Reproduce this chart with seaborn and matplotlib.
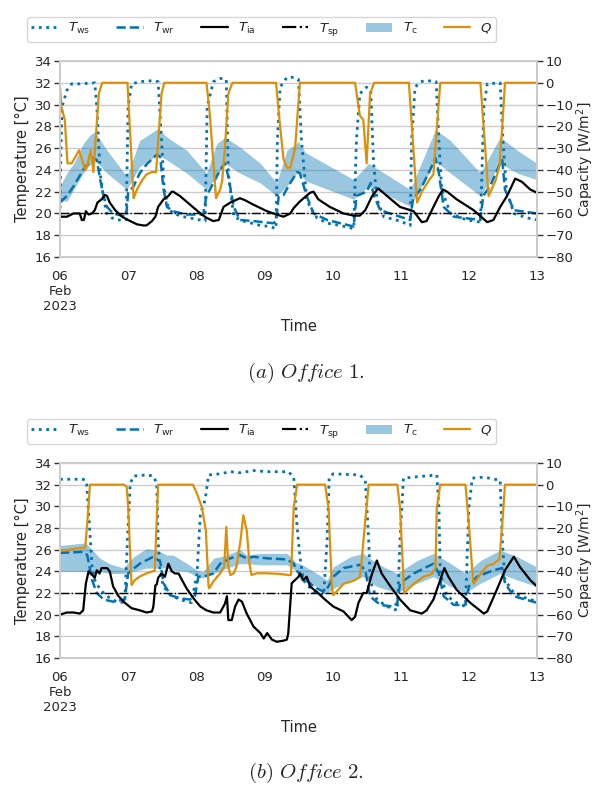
import numpy as np
import pandas as pd
import matplotlib
matplotlib.use('Agg')
import matplotlib.pyplot as plt
import seaborn as sns
from matplotlib.lines import Line2D
from matplotlib.patches import Patch

# ---- data (time in days after 2023-02-06 00:00) ----
start = pd.Timestamp('2023-02-06')
day_labels = ['06\nFeb\n2023', '07', '08', '09', '10', '11', '12', '13']

# ---------------- Office 1 ----------------
o1_ws_t = [0, 0.01, 0.03, 0.10, 0.17, 0.29, 0.51, 0.54, 0.59, 0.64, 0.69, 0.76, 0.83, 0.97, 1.00, 1.05, 1.17, 1.37,
           1.44, 1.49, 1.53, 1.59, 1.66, 1.81, 2.06, 2.13, 2.16, 2.25, 2.35, 2.44, 2.47, 2.55, 2.69, 2.94, 3.08, 3.17,
           3.19, 3.23, 3.33, 3.43, 3.50, 3.54, 3.62, 3.67, 3.77, 3.92, 4.11, 4.31, 4.35, 4.40, 4.50, 4.56, 4.60, 4.65,
           4.75, 4.99, 5.14, 5.16, 5.21, 5.29, 5.38, 5.52, 5.56, 5.60, 5.73, 5.97, 6.17, 6.22, 6.27, 6.46, 6.50, 6.55,
           6.66, 6.85, 7.0]
o1_ws = [19.8, 25.0, 29.8, 31.3, 31.9, 31.9, 32.0, 29.8, 23.7, 21.3, 20.0, 19.6, 19.4, 19.4, 29.8, 31.9, 32.1, 32.2,
         32.1, 26.7, 22.2, 20.5, 20.0, 19.7, 19.4, 19.3, 29.8, 32.1, 32.4, 32.3, 23.7, 19.7, 19.3, 18.9, 18.8, 18.6,
         26.7, 31.6, 32.5, 32.5, 32.3, 27.0, 21.3, 20.6, 19.6, 19.1, 18.9, 18.6, 26.7, 31.0, 31.6, 31.3, 24.8, 21.3,
         19.7, 19.3, 18.9, 26.7, 31.6, 32.1, 32.2, 32.1, 26.7, 22.2, 20.0, 19.4, 19.2, 29.8, 31.9, 32.0, 26.7, 22.2,
         20.0, 19.6, 19.4]

o1_wr_t = [0, 0.10, 0.20, 0.34, 0.49, 0.54, 0.59, 0.64, 0.69, 0.78, 0.97, 1.00, 1.08, 1.17, 1.27, 1.42, 1.47, 1.52,
           1.57, 1.66, 1.86, 2.10, 2.15, 2.25, 2.35, 2.42, 2.47, 2.55, 2.64, 2.84, 3.13, 3.17, 3.21, 3.28, 3.38, 3.48,
           3.52, 3.62, 3.72, 3.92, 4.31, 4.35, 4.50, 4.56, 4.61, 4.70, 4.99, 5.14, 5.18, 5.29, 5.43, 5.51, 5.56, 5.63,
           5.78, 6.17, 6.21, 6.31, 6.46, 6.49, 6.53, 6.66, 7.0]
o1_wr = [21.0, 21.6, 22.5, 24.0, 25.1, 24.9, 23.1, 21.6, 20.6, 20.0, 19.7, 21.9, 22.5, 23.7, 24.5, 25.4, 25.2, 22.2,
         20.6, 20.2, 19.9, 19.9, 21.6, 22.8, 24.0, 24.6, 23.4, 20.6, 19.4, 19.3, 19.1, 19.3, 21.6, 21.7, 22.8, 23.8,
         23.7, 21.6, 20.0, 19.4, 18.8, 21.6, 22.0, 22.8, 21.6, 20.3, 19.7, 19.4, 21.3, 22.2, 24.0, 25.1, 23.7, 20.6,
         19.7, 19.4, 21.6, 22.5, 24.6, 24.9, 22.2, 20.3, 20.0]

o1_ia_t = [0, 0.10, 0.20, 0.29, 0.32, 0.35, 0.38, 0.42, 0.47, 0.51, 0.55, 0.61, 0.66, 0.69, 0.73, 0.81, 0.91, 1.03,
           1.13, 1.22, 1.27, 1.35, 1.40, 1.44, 1.52, 1.59, 1.64, 1.66, 1.76, 1.91, 2.06, 2.15, 2.25, 2.33, 2.40, 2.50,
           2.64, 2.72, 2.84, 3.04, 3.18, 3.28, 3.38, 3.43, 3.52, 3.67, 3.72, 3.79, 3.96, 4.16, 4.31, 4.40, 4.48, 4.58,
           4.67, 4.80, 4.99, 5.19, 5.31, 5.38, 5.48, 5.56, 5.62, 5.68, 5.82, 6.07, 6.27, 6.36, 6.46, 6.56, 6.68, 6.78,
           6.90, 7.0]
o1_ia = [19.7, 19.7, 20.0, 20.0, 19.4, 19.4, 20.2, 19.9, 20.0, 20.3, 21.0, 21.3, 21.7, 21.6, 21.0, 20.3, 19.7, 19.3,
         19.0, 18.9, 18.9, 19.3, 19.7, 20.6, 21.3, 21.6, 22.0, 22.0, 21.6, 20.8, 20.0, 19.6, 19.3, 19.4, 20.6, 21.0,
         21.4, 21.2, 20.8, 20.2, 19.9, 19.7, 20.0, 20.5, 21.1, 21.9, 22.0, 21.3, 20.6, 20.0, 19.8, 19.8, 20.3, 21.6,
         22.3, 21.6, 20.6, 20.2, 19.2, 19.3, 20.6, 21.6, 22.2, 22.0, 21.3, 20.3, 19.2, 19.4, 20.6, 21.6, 23.2, 22.9,
         22.2, 21.9]
o1_sp = 20

o1_c_t = [0, 0.10, 0.20, 0.34, 0.44, 0.51, 0.69, 0.98, 1.17, 1.44, 1.57, 1.86, 2.15, 2.30, 2.42, 2.64, 2.94, 3.18,
          3.33, 3.50, 3.60, 4.31, 4.53, 5.14, 5.51, 5.73, 6.17, 6.46, 6.71, 7.0]
o1_c_lo = [21.3, 21.1, 22.2, 23.7, 24.5, 24.9, 23.7, 22.2, 24.3, 25.4, 24.9, 23.7, 22.2, 23.4, 24.6, 23.7, 22.8, 21.6,
           22.5, 23.9, 23.0, 21.3, 22.5, 20.65, 24.8, 23.7, 21.6, 24.6, 23.7, 23.1]
o1_c_hi = [22.5, 23.7, 24.6, 26.4, 27.2, 27.5, 25.8, 23.4, 26.7, 27.8, 27.0, 25.8, 23.7, 26.4, 27.0, 26.1, 24.6, 22.8,
           25.8, 26.6, 25.6, 23.1, 24.6, 22.2, 27.7, 26.7, 23.7, 27.0, 25.8, 24.6]

o1_q_t = [0, 0.02, 0.07, 0.11, 0.17, 0.28, 0.37, 0.40, 0.45, 0.49, 0.57, 0.62, 0.99, 1.08, 1.13, 1.20, 1.27, 1.35,
          1.41, 1.49, 1.53, 2.15, 2.20, 2.29, 2.35, 2.38, 2.42, 2.47, 2.53, 3.17, 3.23, 3.28, 3.33, 3.38, 3.45, 3.52,
          4.33, 4.40, 4.45, 4.50, 4.55, 4.61, 5.12, 5.24, 5.31, 5.41, 5.48, 5.58, 6.17, 6.29, 6.39, 6.45, 6.49, 6.53,
          7.0]
o1_q = [-2, -11, -17, -37, -37, -31, -40, -38, -31, -41, -5, 0, 0, -53, -49, -45, -42, -41,
        -41, -5, 0, 0, -15, -53, -49, -45, -30, -5, 0, 0, -20, -35, -39, -39, -30, 0,
        0, -15, -17, -37, -5, 0, 0, -55, -50, -45, -42, 0, 0, -52, -45, -38, -20, 0,
        0]

# ---------------- Office 2 ----------------
o2_ws_t = [0, 0.34, 0.39, 0.43, 0.47, 0.51, 0.59, 0.69, 0.83, 0.95, 0.99, 1.03, 1.08, 1.27, 1.37, 1.42, 1.44, 1.47,
           1.52, 1.62, 1.76, 1.93, 2.01, 2.06, 2.13, 2.18, 2.35, 2.50, 2.64, 2.84, 3.04, 3.35, 3.43, 3.48, 3.52, 3.57,
           3.72, 3.87, 3.92, 3.95, 4.01, 4.40, 4.48, 4.53, 4.55, 4.65, 4.80, 4.95, 4.99, 5.04, 5.19, 5.53, 5.56, 5.58,
           5.68, 5.82, 5.95, 6.00, 6.05, 6.22, 6.46, 6.49, 6.53, 6.66, 6.85, 7.0]
o2_ws = [32.5, 32.5, 32.3, 28.4, 24.4, 23.2, 22.3, 21.7, 21.2, 21.1, 26.9, 32.1, 32.8, 32.9, 32.8, 32.1, 26.9, 23.8,
         22.6, 21.8, 21.4, 21.1, 23.8, 29.3, 30.6, 32.9, 33.0, 33.2, 33.1, 33.3, 33.2, 33.2, 32.7, 28.1, 25.4, 23.2,
         22.1, 21.8, 26.9, 32.7, 33.0, 32.9, 32.4, 26.9, 23.2, 21.4, 20.75, 20.4, 26.9, 32.6, 32.7, 32.9, 29.9, 23.8,
         21.7, 21.1, 20.75, 29.9, 32.6, 32.7, 32.4, 26.9, 23.2, 22.0, 21.5, 21.2]

o2_wr_t = [0, 0.34, 0.40, 0.47, 0.54, 0.64, 0.78, 0.95, 1.00, 1.05, 1.17, 1.37, 1.47, 1.52, 1.62, 1.76, 1.91, 1.98,
           2.03, 2.15, 2.25, 2.35, 2.50, 2.64, 2.74, 2.84, 3.04, 3.33, 3.43, 3.48, 3.52, 3.72, 3.87, 3.94, 4.01, 4.16,
           4.40, 4.48, 4.55, 4.70, 4.89, 4.95, 4.99, 5.19, 5.38, 5.48, 5.56, 5.63, 5.78, 5.95, 6.00, 6.12, 6.36, 6.49,
           6.53, 6.66, 7.0]
o2_wr = [25.7, 25.8, 25.5, 23.2, 22.0, 21.4, 21.2, 21.4, 23.8, 24.1, 24.7, 25.35, 24.9, 22.9, 21.8, 21.5, 21.4, 21.7,
         23.5, 23.6, 23.8, 24.7, 25.2, 25.5, 25.2, 25.35, 25.2, 25.1, 24.7, 24.0, 23.8, 22.6, 22.1, 22.6, 23.5, 24.3,
         24.6, 24.1, 21.7, 20.9, 20.75, 21.1, 22.9, 23.8, 24.4, 24.7, 23.8, 21.7, 20.9, 20.9, 22.6, 23.5, 24.1, 24.3,
         22.9, 21.7, 21.1]

o2_ia_t = [0, 0.10, 0.20, 0.29, 0.34, 0.38, 0.42, 0.47, 0.51, 0.54, 0.58, 0.61, 0.69, 0.73, 0.78, 0.86, 0.95, 1.05,
           1.17, 1.27, 1.35, 1.37, 1.40, 1.42, 1.44, 1.49, 1.54, 1.59, 1.64, 1.69, 1.74, 1.79, 1.86, 1.96, 2.06, 2.15,
           2.25, 2.35, 2.42, 2.45, 2.47, 2.52, 2.57, 2.62, 2.67, 2.74, 2.84, 2.94, 2.99, 3.04, 3.11, 3.18, 3.28, 3.33,
           3.35, 3.40, 3.45, 3.50, 3.52, 3.57, 3.62, 3.67, 3.77, 3.87, 4.01, 4.16, 4.28, 4.33, 4.38, 4.45, 4.50, 4.58,
           4.65, 4.72, 4.85, 4.99, 5.14, 5.31, 5.38, 5.48, 5.58, 5.64, 5.70, 5.82, 6.02, 6.22, 6.27, 6.41, 6.53, 6.66,
           6.75, 6.90, 7.0]
o2_ia = [20.0, 20.2, 20.2, 20.1, 20.4, 22.9, 24.0, 23.7, 23.4, 24.1, 23.8, 24.3, 24.3, 24.0, 22.6, 21.7, 21.1, 20.6,
         20.4, 20.2, 20.3, 20.75, 22.7, 22.8, 23.4, 23.8, 23.5, 24.7, 24.0, 23.8, 23.8, 23.2, 22.4, 21.5, 20.75, 20.4,
         20.2, 20.2, 21.0, 21.7, 19.5, 19.5, 20.75, 21.4, 21.2, 20.1, 18.9, 18.3, 17.8, 18.3, 17.7, 17.5, 17.6, 17.7,
         18.3, 22.9, 23.2, 23.5, 23.8, 23.2, 23.5, 22.6, 22.1, 21.5, 20.75, 20.3, 19.5, 19.8, 21.1, 22.0, 22.0, 23.8,
         25.0, 23.8, 22.6, 21.4, 20.4, 20.1, 20.4, 21.4, 23.2, 24.3, 23.5, 22.3, 21.1, 20.1, 20.3, 22.3, 24.1, 25.35,
         24.4, 23.2, 22.6]
o2_sp = 22

o2_c_t = [0, 0.34, 0.38, 0.47, 0.59, 0.73, 0.93, 1.08, 1.27, 1.42, 1.57, 1.66, 1.86, 2.01, 2.10, 2.25, 2.45, 2.64,
          2.74, 2.94, 3.33, 3.48, 3.52, 3.77, 3.92, 4.01, 4.26, 4.45, 4.65, 4.94, 5.24, 5.48, 5.73, 5.95, 6.17, 6.46,
          6.71, 7.0]
o2_c_lo = [24.0, 24.0, 24.0, 23.8, 24.0, 23.8, 23.8, 24.0, 24.3, 24.3, 24.3, 24.1, 24.0, 23.5, 23.4, 23.8, 24.3, 24.7,
           24.7, 24.6, 24.6, 24.0, 23.2, 22.6, 22.0, 22.4, 23.2, 23.5, 22.6, 22.0, 22.9, 23.5, 22.6, 22.0, 22.9, 23.8,
           23.2, 22.6]
o2_c_hi = [26.4, 26.6, 26.6, 26.0, 25.2, 24.7, 24.3, 25.35, 26.1, 25.96, 25.5, 25.5, 24.74, 24.1, 23.97, 25.2, 25.5,
           26.0, 25.5, 25.66, 25.66, 24.74, 24.74, 23.8, 23.2, 24.4, 25.35, 25.66, 24.74, 23.8, 25.0, 25.66, 24.74, 23.8,
           25.0, 25.96, 25.35, 24.4]

o2_q_t = [0, 0.10, 0.24, 0.37, 0.40, 0.44, 0.94, 0.98, 1.00, 1.05, 1.10, 1.17, 1.27, 1.37, 1.39, 1.44, 1.95, 2.01,
          2.08, 2.14, 2.18, 2.19, 2.25, 2.35, 2.41, 2.44, 2.47, 2.50, 2.55, 2.59, 2.65, 2.69, 2.74, 2.78, 2.81, 2.89,
          3.04, 3.23, 3.35, 3.39, 3.43, 3.48, 3.89, 3.94, 3.99, 4.01, 4.16, 4.31, 4.40, 4.42, 4.47, 4.53, 4.95, 4.99,
          5.05, 5.19, 5.34, 5.46, 5.51, 5.53, 5.58, 5.95, 6.00, 6.05, 6.07, 6.17, 6.27, 6.36, 6.45, 6.49, 6.53, 7.0]
o2_q = [-30.2, -30.2, -29.4, -29.0, -17.9, 0, 0, -1, -10.3, -46.3, -44.0, -42.4, -40.9, -39.9, -39.9, 0, 0, -4.1,
        -10.3, -21.0, -47.0, -47.8, -44.7, -40.9, -37.8, -19.5, -37.8, -41.7, -40.9, -37.8, -25.6, -14.1, -21.0, -36.3,
        -41.7, -40.9, -40.9, -41.2, -41.7, -41.7, -10.3, 0, 0, -10.7, -47.3, -51.0, -45.8, -44.3, -42.7, -37.4, -19.8,
        0, 0, -10.7, -50.0, -45.8, -42.4, -41.2, -38.2, -10.7, 0, 0, -18.3, -39.7, -45.8, -41.2, -37.4, -36.6, -34.4,
        -18.3, 0, 0]

blue = '#0173b2'
orange = '#de8f05'

sns.set_theme(style='whitegrid')
plt.rcParams['font.family'] = ['DejaVu Sans']
plt.rcParams['axes.edgecolor'] = '0.8'
plt.rcParams['grid.color'] = '0.8'


def to_time(days):
    return start + pd.to_timedelta(np.asarray(days), unit='D')


def draw_panel(ax, ws_t, ws, wr_t, wr, ia_t, ia, sp, c_t, c_lo, c_hi, q_t, q):
    ax.fill_between(to_time(c_t), c_lo, c_hi, color=blue, alpha=0.4, lw=0)
    sns.lineplot(x=to_time(ws_t), y=ws, ax=ax, color=blue, ls=':', lw=2)
    sns.lineplot(x=to_time(wr_t), y=wr, ax=ax, color=blue, ls='--', lw=1.8)
    sns.lineplot(x=to_time(ia_t), y=ia, ax=ax, color='black', lw=1.6)
    ax.axhline(sp, color='black', ls='-.', lw=1)
    ax.set_ylim(16, 34)
    ax.set_yticks(range(16, 35, 2))
    ax.set_ylabel('Temperature [°C]', fontsize=10.5, labelpad=3)
    ax.set_xlabel('Time', fontsize=10.5)
    ticks = to_time(range(8))
    ax.set_xlim(ticks[0], ticks[-1])
    ax.set_xticks(ticks)
    ax.set_xticklabels(day_labels)
    ax.grid(axis='x', visible=False)
    ax.tick_params(axis='both', labelsize=9.5)
    ax.tick_params(axis='y', left=True, length=4, width=1, color='0.2', pad=2)

    ax2 = ax.twinx()
    sns.lineplot(x=to_time(q_t), y=q, ax=ax2, color=orange, lw=1.6)
    ax2.set_ylim(-80, 10)
    ax2.set_yticks(range(-80, 11, 10))
    ax2.set_ylabel('Capacity [W/m$^2$]', fontsize=10, labelpad=1)
    ax2.grid(False)
    ax2.tick_params(axis='y', right=True, length=4, width=1, color='0.2', labelsize=9.5, pad=2)
    for sp_ in ax2.spines.values():
        sp_.set_color('0.8')
    ax2.set_xlim(ticks[0], ticks[-1])
    return ax2


fig = plt.figure(figsize=(5.98, 7.91), dpi=100)
ax_a = fig.add_axes([60 / 598, 1 - 257 / 791, 477 / 598, 196 / 791])
ax_b = fig.add_axes([60 / 598, 1 - 658 / 791, 477 / 598, 195 / 791])

draw_panel(ax_a, o1_ws_t, o1_ws, o1_wr_t, o1_wr, o1_ia_t, o1_ia, o1_sp, o1_c_t, o1_c_lo, o1_c_hi, o1_q_t, o1_q)
draw_panel(ax_b, o2_ws_t, o2_ws, o2_wr_t, o2_wr, o2_ia_t, o2_ia, o2_sp, o2_c_t, o2_c_lo, o2_c_hi, o2_q_t, o2_q)

handles = [Line2D([], [], color=blue, ls=':', lw=2),
           Line2D([], [], color=blue, ls='--', lw=1.8),
           Line2D([], [], color='black', lw=1.6),
           Line2D([], [], color='black', ls='-.', lw=1.6),
           Patch(facecolor=blue, alpha=0.4, lw=0),
           Line2D([], [], color=orange, lw=1.6)]
labels = [r'$T_\mathrm{ws}$', r'$T_\mathrm{wr}$', r'$T_\mathrm{ia}$', r'$T_\mathrm{sp}$', r'$T_\mathrm{c}$', r'$Q$']

for y_top in (17, 419):
    fig.legend(handles, labels, loc='upper left', bbox_to_anchor=(27 / 598, 1 - y_top / 791), ncol=6,
               fontsize=9.5, frameon=True, borderaxespad=0, handlelength=2.0, handletextpad=0.8,
               columnspacing=2.0, borderpad=0.3, edgecolor='0.8', fancybox=True)

fig.text(306 / 598, 1 - 373 / 791, r'$\mathit{(a)\ Office}\ \mathrm{1.}$', math_fontfamily='cm',
         ha='center', va='center', fontsize=15)
fig.text(306 / 598, 1 - 773 / 791, r'$\mathit{(b)\ Office}\ \mathrm{2.}$', math_fontfamily='cm',
         ha='center', va='center', fontsize=15)

fig.savefig('out.png', dpi=100)
